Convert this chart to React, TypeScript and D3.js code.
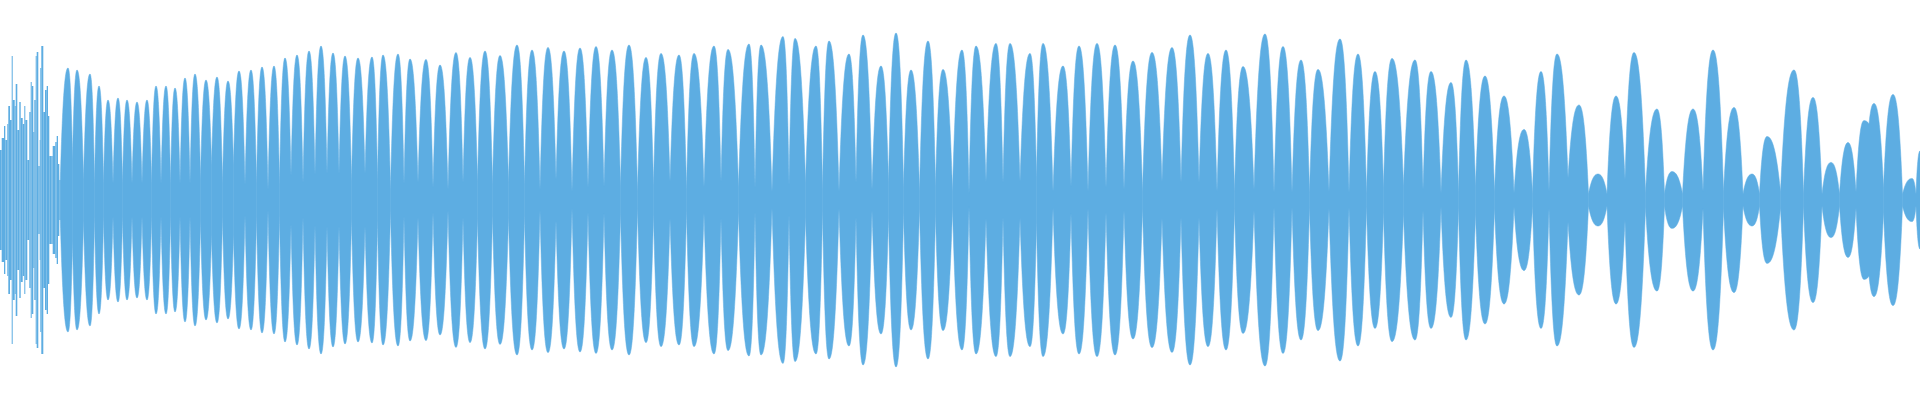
import React from 'react';
import * as d3 from 'd3';

const waveColor = '#5dade2';
const width = 1920;
const height = 400;

// opening burst: one bar per column group (frame, amplitude)
const spikeX = [0, 1.7, 4, 5.3, 7.3, 8.3, 10, 11.7, 12.7, 14.7, 15.7, 17.3, 19.3, 20.7, 22.7, 24.3, 25.3, 27.3, 29.3, 30.7,
  31.7, 33.3, 34.3, 35.7, 36.7, 38.3, 39.7, 40.3, 41.3, 43.3, 45, 46.7, 48, 49.3, 51.3, 52.7, 54, 55.3, 56.7, 58, 59.3];
const spikeAmp = [0.25, 0.31, 0.37, 0.30, 0.38, 0.47, 0.40, 0.72, 0.50, 0.47, 0.58, 0.35, 0.49, 0.41, 0.38, 0.47, 0.40, 0.20, 0.44, 0.59,
  0.57, 0.34, 0.50, 0.72, 0.74, 0.17, 0.30, 0.66, 0.77, 0.44, 0.55, 0.57, 0.42, 0.22, 0.22, 0.27, 0.27, 0.29, 0.32, 0.18, 0.10];

// envelope peaks (frame, amplitude)
const peakX = [68, 77, 90, 99, 108, 118, 127, 137, 147, 156, 166, 175, 185, 195,
  206, 217, 228, 239, 251, 262, 274, 285, 297, 309, 321, 333, 345, 358, 372, 383, 398,
  410, 426, 440, 456, 470, 485, 500, 517, 532, 548, 564, 580, 596, 612, 629, 646,
  661, 679, 694, 714, 728, 749, 761, 783, 795, 816, 829, 849, 863, 881, 896,
  911, 928, 943, 962, 976, 996,
  1010, 1030, 1043, 1063, 1079, 1097, 1115, 1133, 1152, 1172, 1190, 1208, 1226, 1243,
  1265, 1283, 1301, 1318, 1340, 1358, 1375, 1392, 1415, 1431, 1451, 1466, 1485,
  1504, 1524, 1541, 1557, 1579, 1598, 1616, 1634, 1657, 1672, 1693, 1713,
  1734, 1752, 1767, 1794, 1813, 1831, 1848, 1864, 1874, 1893, 1912, 1920];
const peakAmp = [0.66, 0.65, 0.63, 0.57, 0.50, 0.51, 0.50, 0.49, 0.50, 0.57, 0.57, 0.56, 0.61, 0.63,
  0.60, 0.615, 0.595, 0.645, 0.65, 0.665, 0.67, 0.71, 0.725, 0.745, 0.77, 0.735, 0.72, 0.71, 0.715, 0.725, 0.73,
  0.705, 0.703, 0.675, 0.737, 0.713, 0.745, 0.722, 0.775, 0.75, 0.763, 0.745, 0.76, 0.767, 0.75, 0.775, 0.713,
  0.733, 0.725, 0.733, 0.77, 0.753, 0.78, 0.775, 0.817, 0.808, 0.77, 0.795, 0.73, 0.825, 0.67, 0.835,
  0.65, 0.795, 0.653, 0.75, 0.77, 0.783,
  0.783, 0.733, 0.783, 0.67, 0.77, 0.783, 0.775, 0.695, 0.738, 0.762, 0.825, 0.733, 0.75, 0.667,
  0.83, 0.767, 0.70, 0.653, 0.805, 0.73, 0.642, 0.708, 0.70, 0.642, 0.587, 0.70, 0.62,
  0.52, 0.353, 0.642, 0.73, 0.475, 0.13, 0.52, 0.737, 0.455, 0.142, 0.455, 0.75,
  0.463, 0.13, 0.317, 0.65, 0.513, 0.188, 0.287, 0.397, 0.483, 0.528, 0.108, 0.245];

// valley level before each peak (first one is the start of the envelope)
const valleyAmp = [0.10,
  0.2, 0.1, 0.08, 0.08, 0.08, 0.08, 0.08, 0.08, 0.08, 0.08, 0.08, 0.08, 0.08,
  0.1,
  0.17, 0.08, 0.17, 0.075, 0.08, 0.05, 0.075, 0.12, 0.085, 0.125, 0.13, 0.13, 0.09, 0.13, 0.1, 0.05,
  0.08,
  0.085, 0.06, 0.05, 0.085, 0.09, 0.075, 0.085, 0.075, 0.05, 0.1, 0.04, 0.06, 0.067, 0.067, 0.04,
  0.07,
  0.09, 0.05, 0.065, 0.09, 0.06, 0.06, 0.04, 0.075, 0.085, 0.05, 0.04, 0.085, 0.05, 0.085,
  0.06, 0.04, 0.067, 0.04, 0.033, 0.09,
  0.085,
  0.09, 0.11, 0.04, 0.067, 0.04, 0.06, 0.05, 0.04, 0.09, 0.085, 0.085, 0.04, 0.04,
  0.05,
  0.035, 0.035, 0.035, 0.04, 0.035, 0.03, 0.06, 0.067, 0.05, 0.035, 0.035, 0.067,
  0.04,
  0.035, 0.03, 0.04, 0.11, 0.03, 0.03, 0.1, 0.035, 0.03, 0.03,
  0.042, 0.04,
  0.03, 0.03, 0.04, 0.03, 0.03, 0.03, 0.04, 0.38, 0.06, 0.03, 0.03];

// curve for one envelope lobe: steep at the valleys, flat at the peak
const lobeCurve = (cy: number, f: number) => (context: any) => {
  let line = NaN;
  let pts: number[][] = [];
  return {
    areaStart() { line = 0; },
    areaEnd() { line = NaN; },
    lineStart() { pts = []; },
    point(px: number, py: number) { pts.push([+px, +py]); },
    lineEnd() {
      const n = pts.length;
      if (n) {
        const m = pts.map((p, i) => {
          if (i !== 0 && i !== n - 1) return 0;
          const q = pts[i === 0 ? 1 : n - 2];
          if (!q) return 0;
          const sec = (q[1] - p[1]) / (q[0] - p[0]);
          return Math.abs(p[1] - cy) < Math.abs(q[1] - cy) ? f * sec : 0;
        });
        if (line) context.lineTo(pts[0][0], pts[0][1]);
        else context.moveTo(pts[0][0], pts[0][1]);
        for (let i = 0; i < n - 1; i++) {
          const [x0, y0] = pts[i];
          const [x1, y1] = pts[i + 1];
          const h = (x1 - x0) / 3;
          context.bezierCurveTo(x0 + h, y0 + m[i] * h, x1 - h, y1 - m[i + 1] * h, x1, y1);
        }
      }
      if (line) context.closePath();
      line = 1 - line;
    },
  };
};

export default function App() {
  const x = d3.scaleLinear().domain([0, 1920]).range([0, width]);
  const y = d3.scaleLinear().domain([-1, 1]).range([height, 0]);

  const area = d3.area<[number, number]>()
    .x(d => x(d[0]))
    .y0(d => y(-d[1]))
    .y1(d => y(d[1]))
    .curve(lobeCurve(y(0), 2.5) as any);

  const n = peakX.length;
  const blobs = peakX.map((p, i) => {
    const left = i === 0 ? spikeX[spikeX.length - 1] + 1 : (peakX[i - 1] + p) / 2;
    const pts: [number, number][] = [[left, valleyAmp[i]], [p, peakAmp[i]]];
    if (i < n - 1) pts.push([(p + peakX[i + 1]) / 2, valleyAmp[i + 1]]);
    return area(pts);
  });

  const spikes = spikeX.map((s, i) => {
    const next = i < spikeX.length - 1 ? spikeX[i + 1] : s + 1.3;
    return { x0: x(s), w: Math.max(0.8, x(next) - x(s)), a: spikeAmp[i] };
  });

  return (
    <div style={{ position: 'absolute', left: 0, top: 0 }}>
      <svg width={width} height={height} style={{ display: 'block' }}>
        <rect width={width} height={height} fill="#fff" />
        <g fill={waveColor}>
          {spikes.map((s, i) => (
            <rect key={i} x={s.x0} width={s.w} y={y(s.a)} height={y(-s.a) - y(s.a)} />
          ))}
          {blobs.map((d, i) => (
            <path key={i} d={d || ''} stroke={waveColor} strokeWidth={0.5} />
          ))}
        </g>
      </svg>
    </div>
  );
}
